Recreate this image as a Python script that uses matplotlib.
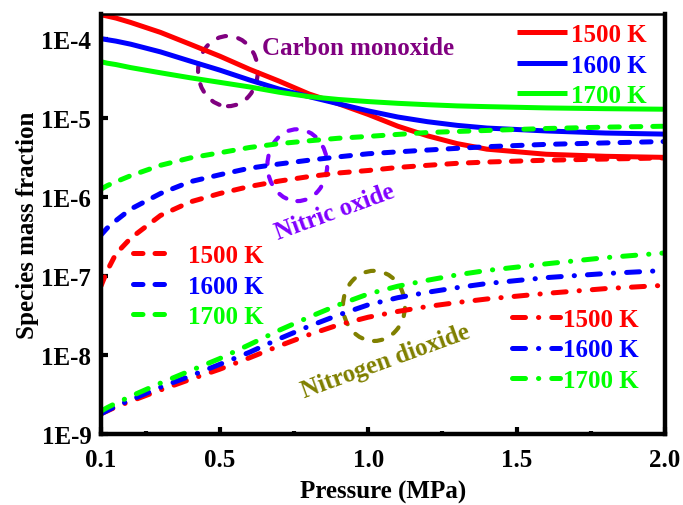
import numpy as np
import matplotlib
matplotlib.use("Agg")
import matplotlib.pyplot as plt
from matplotlib.patches import Ellipse
from matplotlib.ticker import FixedLocator, FuncFormatter, NullLocator

plt.rcParams['font.family'] = ['Liberation Serif', 'DejaVu Serif']
plt.rcParams['font.weight'] = 'bold'
plt.rcParams['font.size'] = 18

# pressure grid (MPa)
pressure = [0.1, 0.12, 0.15, 0.2, 0.3, 0.4, 0.5, 0.6, 0.7, 0.8, 0.9, 1.0,
            1.1, 1.2, 1.3, 1.4, 1.6, 1.8, 2.0]
temps = ["1500 K", "1600 K", "1700 K"]
colors = ["#ff0000", "#0000ff", "#00ff00"]

# carbon monoxide
co_1500 = [2.0e-4, 1.93e-4, 1.82e-4, 1.6e-4, 1.2e-4, 8.5e-5, 6.0e-5, 4.1e-5, 2.9e-5, 2.0e-5,
           1.5e-5, 1.1e-5, 7.8e-6, 5.9e-6, 4.7e-6, 4.0e-6, 3.45e-6, 3.25e-6, 3.15e-6]
co_1600 = [1.0e-4, 9.7e-5, 9.3e-5, 8.5e-5, 6.8e-5, 5.2e-5, 4.0e-5, 3.0e-5, 2.3e-5, 1.85e-5,
           1.5e-5, 1.22e-5, 1.02e-5, 8.9e-6, 8.0e-6, 7.4e-6, 6.8e-6, 6.4e-6, 6.2e-6]
co_1700 = [5.1e-5, 4.9e-5, 4.7e-5, 4.3e-5, 3.7e-5, 3.2e-5, 2.8e-5, 2.45e-5, 2.1e-5, 1.85e-5,
           1.7e-5, 1.6e-5, 1.52e-5, 1.46e-5, 1.41e-5, 1.38e-5, 1.33e-5, 1.3e-5, 1.28e-5]

# nitric oxide
no_1500 = [7.5e-8, 1.15e-7, 1.9e-7, 3.0e-7, 5.8e-7, 8.6e-7, 1.1e-6, 1.35e-6, 1.58e-6, 1.8e-6,
           2.0e-6, 2.15e-6, 2.35e-6, 2.5e-6, 2.65e-6, 2.75e-6, 2.9e-6, 3.0e-6, 3.1e-6]
no_1600 = [3.3e-7, 4.0e-7, 5.0e-7, 7.0e-7, 1.1e-6, 1.55e-6, 1.9e-6, 2.3e-6, 2.6e-6, 2.9e-6,
           3.2e-6, 3.5e-6, 3.7e-6, 3.9e-6, 4.1e-6, 4.3e-6, 4.6e-6, 4.8e-6, 5.0e-6]
no_1700 = [1.25e-6, 1.38e-6, 1.55e-6, 1.85e-6, 2.5e-6, 3.1e-6, 3.6e-6, 4.2e-6, 4.7e-6, 5.1e-6,
           5.5e-6, 5.8e-6, 6.15e-6, 6.5e-6, 6.7e-6, 6.9e-6, 7.3e-6, 7.6e-6, 7.8e-6]

# nitrogen dioxide
no2_1500 = [1.8e-9, 1.95e-9, 2.2e-9, 2.6e-9, 3.6e-9, 4.9e-9, 6.6e-9, 9.2e-9, 1.3e-8, 1.8e-8,
            2.4e-8, 3.0e-8, 3.55e-8, 4.1e-8, 4.6e-8, 5.1e-8, 6.0e-8, 6.9e-8, 7.6e-8]
no2_1600 = [1.8e-9, 1.97e-9, 2.25e-9, 2.7e-9, 3.9e-9, 5.4e-9, 7.6e-9, 1.08e-8, 1.6e-8, 2.3e-8,
            3.2e-8, 4.3e-8, 5.3e-8, 6.2e-8, 7.1e-8, 8.0e-8, 9.5e-8, 1.07e-7, 1.17e-7]
no2_1700 = [1.95e-9, 2.15e-9, 2.45e-9, 3.0e-9, 4.4e-9, 6.3e-9, 9.0e-9, 1.35e-8, 2.05e-8, 3.0e-8,
            4.3e-8, 5.9e-8, 7.4e-8, 8.8e-8, 1.03e-7, 1.17e-7, 1.42e-7, 1.7e-7, 1.95e-7]

x_ticks = [0.1, 0.5, 1.0, 1.5, 2.0]
x_minor = [0.25, 0.75, 1.25, 1.75]
y_ticks = [1e-9, 1e-8, 1e-7, 1e-6, 1e-5, 1e-4]

fig = plt.figure(figsize=(6.83, 5.06), dpi=100)
ax = fig.add_axes([0.148, 0.1403, 0.8256, 0.8301])

LW = 3.6
dash_style = (0, (1.9, 2.4))
dashdot_style = (0, (2.6, 2.6, 0.05, 2.6))

co_lines, no_lines, no2_lines = [], [], []
for vals, c, lab in zip([co_1500, co_1600, co_1700], colors, temps):
    ln, = ax.plot(pressure, vals, color=c, lw=LW, solid_capstyle='butt', label=lab)
    co_lines.append(ln)
for vals, c, lab in zip([no_1500, no_1600, no_1700], colors, temps):
    ln, = ax.plot(pressure, vals, color=c, lw=LW, linestyle=dash_style,
                  dash_capstyle='round', label=lab)
    no_lines.append(ln)
for vals, c, lab in zip([no2_1500, no2_1600, no2_1700], colors, temps):
    ln, = ax.plot(pressure, vals, color=c, lw=LW, linestyle=dashdot_style,
                  dash_capstyle='round', label=lab)
    no2_lines.append(ln)

ax.set_yscale('log')
ax.set_xlim(0.1, 2.0)
ax.set_ylim(1e-9, 2.05e-4)

ax.xaxis.set_major_locator(FixedLocator(x_ticks))
ax.xaxis.set_minor_locator(FixedLocator(x_minor))
ax.xaxis.set_major_formatter(FuncFormatter(lambda v, p: f"{v:.1f}"))
ax.yaxis.set_major_locator(FixedLocator(y_ticks))
ax.yaxis.set_minor_locator(NullLocator())
ax.yaxis.set_major_formatter(FuncFormatter(lambda v, p: f"1E{int(round(np.log10(v)))}"))

ax.tick_params(which='major', direction='in', length=5, width=3, labelsize=18)
ax.tick_params(which='minor', direction='in', length=2.5, width=3)
ax.tick_params(axis='x', which='major', pad=10)
ax.tick_params(axis='y', which='major', pad=7)

for side in ['left', 'bottom', 'right']:
    ax.spines[side].set_linewidth(3.2)
ax.spines['top'].set_linewidth(1.8)

ax.set_xlabel('Pressure (MPa)', fontsize=18, fontweight='bold', labelpad=6.5)
ax.set_ylabel('Species mass fraction', fontsize=18, fontweight='bold', labelpad=2)

# three separate legends for the three species
leg_kw = dict(frameon=False, borderpad=0, borderaxespad=0, labelcolor='linecolor',
              fontsize=18, loc='upper left', labelspacing=0.3)
leg1 = ax.legend(handles=co_lines, bbox_to_anchor=(0.738, 0.978),
                 handlelength=2.0, handletextpad=0.16, **leg_kw)
ax.add_artist(leg1)
leg2 = ax.legend(handles=no_lines, bbox_to_anchor=(0.057, 0.452),
                 handlelength=1.6, handletextpad=0.6, **leg_kw)
ax.add_artist(leg2)
leg3 = ax.legend(handles=no2_lines, bbox_to_anchor=(0.729, 0.30),
                 handlelength=1.9, handletextpad=0.12, **leg_kw)

# species labels and dashed rings
ax.text(0.285, 0.921, 'Carbon monoxide', color='#800080', fontsize=18,
        ha='left', va='center', transform=ax.transAxes)
ax.text(0.415, 0.531, 'Nitric oxide', color='#8000ff', fontsize=18, rotation=20,
        ha='center', va='center', transform=ax.transAxes)
ax.text(0.505, 0.174, 'Nitrogen dioxide', color='#808000', fontsize=18, rotation=20,
        ha='center', va='center', transform=ax.transAxes)

rings = [((0.225, 0.864), 0.106, 0.167, '#800080'),
         ((0.348, 0.640), 0.106, 0.171, '#8000ff'),
         ((0.484, 0.305), 0.110, 0.167, '#808000')]
for center, w, h, c in rings:
    e = Ellipse(center, w, h, transform=ax.transAxes, fill=False, edgecolor=c,
                lw=3, linestyle=(0, (2, 3)), capstyle='round')
    ax.add_patch(e)

fig.savefig('out.png', dpi=100)
